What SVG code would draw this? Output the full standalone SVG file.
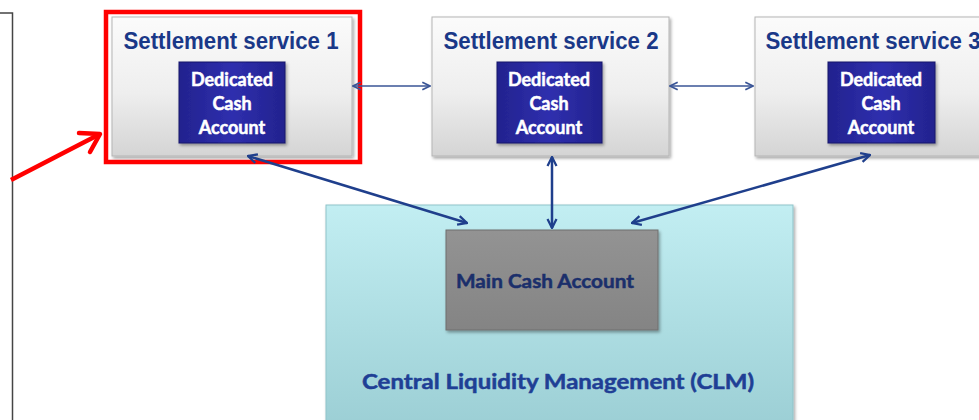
<svg xmlns="http://www.w3.org/2000/svg" width="979" height="420" viewBox="0 0 979 420">
<defs>
  <linearGradient id="gSS" x1="0" y1="0" x2="0" y2="1">
    <stop offset="0" stop-color="#fbfbfb"/>
    <stop offset="0.55" stop-color="#eeeeee"/>
    <stop offset="1" stop-color="#d4d4d4"/>
  </linearGradient>
  <linearGradient id="gDed" x1="0" y1="0" x2="1" y2="0">
    <stop offset="0" stop-color="#22228e"/>
    <stop offset="0.5" stop-color="#2f2fae"/>
    <stop offset="1" stop-color="#22228e"/>
  </linearGradient>
  <linearGradient id="gCLM" x1="0" y1="0" x2="0" y2="1">
    <stop offset="0" stop-color="#c2eef2"/>
    <stop offset="1" stop-color="#9ccfd5"/>
  </linearGradient>
  <linearGradient id="gMain" x1="0" y1="0" x2="0" y2="1">
    <stop offset="0" stop-color="#939393"/>
    <stop offset="1" stop-color="#848484"/>
  </linearGradient>
  <filter id="sh" x="-10%" y="-10%" width="125%" height="130%">
    <feDropShadow dx="1.5" dy="2" stdDeviation="1.5" flood-color="#000" flood-opacity="0.35"/>
  </filter>
  <marker id="ah" viewBox="0 0 10 10" refX="9" refY="5" markerWidth="4.5" markerHeight="4.5" orient="auto-start-reverse" markerUnits="strokeWidth">
    <path d="M1,1 L9,5 L1,9" fill="none" stroke="#1f3f8c" stroke-width="2"/>
  </marker>
  <marker id="ahThin" viewBox="0 0 10 10" refX="9" refY="5" markerWidth="6" markerHeight="6" orient="auto-start-reverse" markerUnits="strokeWidth">
    <path d="M1,1 L9,5 L1,9" fill="none" stroke="#3a5596" stroke-width="1.8"/>
  </marker>
  <style>
    .ss { fill: url(#gSS); stroke: #b5b5b5; stroke-width: 1; }
    .ded { fill: url(#gDed); stroke: #15156a; stroke-width: 1; }
    .title { font-family: "Liberation Sans", Arial, sans-serif; font-weight: bold; font-size: 23px; fill: #1a3888; text-anchor: middle; }
    .dtxt { font-family: Lato, "Open Sans", sans-serif; font-weight: bold; font-size: 18px; fill: #ffffff; stroke: #ffffff; stroke-width: 0.5; text-anchor: middle; }
    .btxt { font-family: Lato, "Open Sans", sans-serif; font-weight: bold; stroke-width: 0.5; }
    .conn { fill: none; stroke: #1f3f8c; stroke-width: 2.5; }
    .connThin { fill: none; stroke: #3a5596; stroke-width: 1.6; }
  </style>
</defs>
<rect width="979" height="420" fill="#ffffff"/>

<g id="left-panel">
  <path d="M0,13 H12.5 V420" fill="none" stroke="#444444" stroke-width="1.5"/>
</g>

<g id="clm">
  <rect x="326" y="205" width="467" height="220" fill="url(#gCLM)" stroke="#8fc3c9" stroke-width="1" filter="url(#sh)"/>
  <text x="558" y="389" class="btxt" font-size="21" fill="#1f3f95" stroke="#1f3f95" text-anchor="middle" textLength="392" lengthAdjust="spacingAndGlyphs">Central Liquidity Management (CLM)</text>
</g>

<g id="main-cash">
  <rect x="446" y="230" width="212" height="100" fill="url(#gMain)" stroke="#6f6f6f" stroke-width="1" filter="url(#sh)"/>
  <text x="545" y="288" class="btxt" font-size="19" fill="#1b2f6b" stroke="#1b2f6b" text-anchor="middle" textLength="178" lengthAdjust="spacingAndGlyphs">Main Cash Account</text>
</g>

<g id="ss1">
  <rect x="112" y="17" width="240" height="139" class="ss" filter="url(#sh)"/>
  <text x="231" y="49" class="title" textLength="215" lengthAdjust="spacingAndGlyphs">Settlement service 1</text>
  <rect x="179" y="62" width="106" height="81" class="ded" filter="url(#sh)"/>
  <text x="232" y="86" class="dtxt">Dedicated</text>
  <text x="232" y="110" class="dtxt">Cash</text>
  <text x="232" y="134" class="dtxt">Account</text>
</g>

<g id="ss2">
  <rect x="432" y="17" width="237" height="139" class="ss" filter="url(#sh)"/>
  <text x="551" y="49" class="title" textLength="215" lengthAdjust="spacingAndGlyphs">Settlement service 2</text>
  <rect x="497" y="62" width="105" height="81" class="ded" filter="url(#sh)"/>
  <text x="549" y="86" class="dtxt">Dedicated</text>
  <text x="549" y="110" class="dtxt">Cash</text>
  <text x="549" y="134" class="dtxt">Account</text>
</g>

<g id="ss3">
  <rect x="755" y="17" width="240" height="139" class="ss" filter="url(#sh)"/>
  <text x="873" y="49" class="title" textLength="215" lengthAdjust="spacingAndGlyphs">Settlement service 3</text>
  <rect x="828" y="62" width="107" height="81" class="ded" filter="url(#sh)"/>
  <text x="881" y="86" class="dtxt">Dedicated</text>
  <text x="881" y="110" class="dtxt">Cash</text>
  <text x="881" y="134" class="dtxt">Account</text>
</g>

<g id="highlight">
  <rect x="106" y="12" width="254" height="150" fill="none" stroke="#ff0000" stroke-width="4.5"/>
  <path d="M11,180 L100,134" fill="none" stroke="#ff0000" stroke-width="4.5"/>
  <path d="M79,133 L100,134 L90,152" fill="none" stroke="#ff0000" stroke-width="4.5" stroke-linecap="round" stroke-linejoin="round"/>
</g>

<g id="connectors">
  <line x1="353" y1="86" x2="430" y2="86" class="connThin" marker-start="url(#ahThin)" marker-end="url(#ahThin)"/>
  <line x1="670" y1="86" x2="753" y2="86" class="connThin" marker-start="url(#ahThin)" marker-end="url(#ahThin)"/>
  <line x1="248" y1="156" x2="467" y2="223" class="conn" marker-start="url(#ah)" marker-end="url(#ah)"/>
  <line x1="552" y1="157" x2="552" y2="228" class="conn" marker-start="url(#ah)" marker-end="url(#ah)"/>
  <line x1="870" y1="155" x2="632" y2="223" class="conn" marker-start="url(#ah)" marker-end="url(#ah)"/>
</g>
</svg>
